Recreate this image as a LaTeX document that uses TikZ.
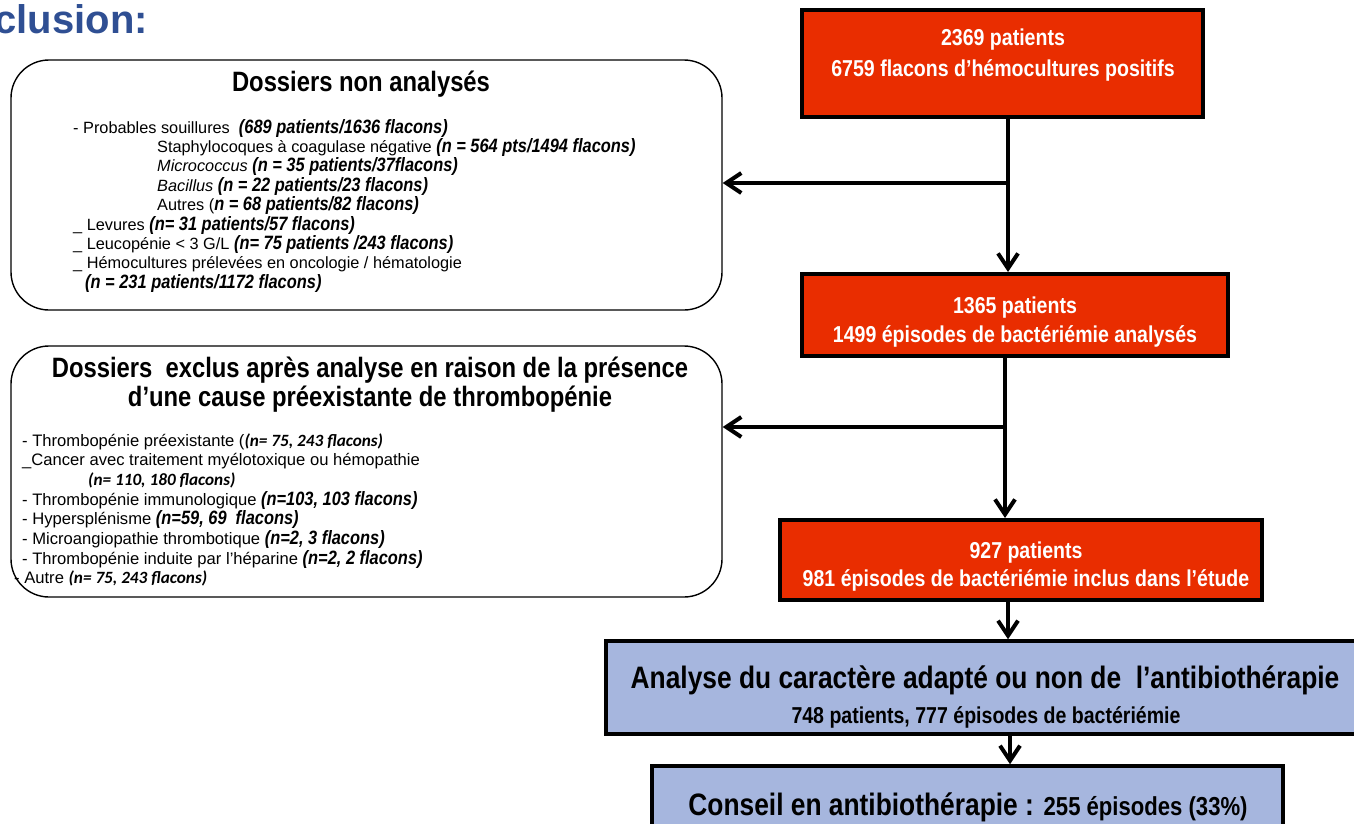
\documentclass[tikz,border=0pt]{standalone}
\usepackage{fontspec}
\setmainfont{Liberation Sans}
\newfontfamily\narrowf{Liberation Sans}[FakeStretch=0.85]
\newfontfamily\carl{Carlito}
\usetikzlibrary{arrows.meta}
\definecolor{redfill}{RGB}{233,45,0}
\definecolor{bluefill}{RGB}{166,182,222}
\definecolor{titleblue}{RGB}{47,79,147}
\newcommand{\bic}[1]{{\narrowf\bfseries\itshape\fontsize{19.3}{19}\selectfont #1}}
\newcommand{\cbic}[1]{{\carl\bfseries\itshape\fontsize{17.2}{19}\selectfont #1}}
\begin{document}
\begin{tikzpicture}[x=1pt,y=-1pt,
  redbox/.style={draw=black, line width=4pt, fill=redfill, inner sep=0pt},
  bluebox/.style={draw=black, line width=3.5pt, fill=bluefill, inner sep=0pt},
  roundbox/.style={draw=black, line width=1.4pt, rounded corners=38pt, inner sep=0pt},
  redtxt/.style={text=white, inner sep=0pt, font=\narrowf\bfseries\fontsize{23}{26}\selectfont},
  bluetitle/.style={text=black, inner sep=0pt, font=\narrowf\bfseries\fontsize{31}{34}\selectfont},
  bluesub/.style={text=black, inner sep=0pt, font=\narrowf\bfseries\fontsize{23}{26}\selectfont},
  boxtitle/.style={text=black, inner sep=0pt, font=\narrowf\bfseries\fontsize{28}{30}\selectfont},
  item/.style={anchor=base west, inner sep=0pt, font=\fontsize{16.3}{19}\selectfont},
  itemb/.style={anchor=base west, inner sep=0pt, font=\fontsize{16.6}{19}\selectfont},
  conn/.style={line width=4pt, -{Straight Barb[length=15pt,width=20pt]}}
]
\useasboundingbox (0,0) rectangle (1354,823);
\clip (0,0) rectangle (1354,823);

% title fragment
\node[anchor=base east, inner sep=0pt, text=titleblue, font=\bfseries\fontsize{40}{44}\selectfont] (ttl) at (148,33) {clusion:};

% rounded boxes
\node[roundbox, minimum width=711pt, minimum height=250pt] (nb1) at (366.5,185) {};
\node[roundbox, minimum width=711pt, minimum height=251pt] (nb2) at (366.5,471.5) {};

% box 1 content
\node[boxtitle] (h1) at (361,84) {Dossiers non analysés};
\node[item] (l1) at (73,133) {- Probables souillures \ \bic{(689 patients/1636 flacons)}};
\node[item] (l2) at (157,152.4) {Staphylocoques à coagulase négative \bic{(n = 564 pts/1494 flacons)}};
\node[item] (l3) at (157,171.8) {\textit{Micrococcus} \bic{(n = 35 patients/37flacons)}};
\node[item] (l4) at (157,191.2) {\textit{Bacillus} \bic{(n = 22 patients/23 flacons)}};
\node[item] (l5) at (157,210.6) {Autres (\bic{n = 68 patients/82 flacons)}};
\node[item] (l6) at (73,230) {\_ Levures \bic{(n= 31 patients/57 flacons)}};
\node[item] (l7) at (73,249.4) {\_ Leucopénie < 3 G/L \bic{(n= 75 patients /243 flacons)}};
\node[item] (l8) at (73,268.8) {\_ Hémocultures prélevées en oncologie / hématologie};
\node[item] (l9) at (85,288.2) {\bic{(n = 231 patients/1172 flacons)}};

% box 2 content
\node[boxtitle] (h2a) at (370,370) {Dossiers \ exclus après analyse en raison de la présence};
\node[boxtitle] (h2b) at (370,399) {d’une cause préexistante de thrombopénie};
\node[itemb] (m1) at (22,446) {- Thrombopénie préexistante (\cbic{(n= 75, 243 flacons)}};
\node[itemb] (m2) at (22,465.7) {\_Cancer avec traitement myélotoxique ou hémopathie};
\node[itemb] (m3) at (88,485.4) {\cbic{(n= 110, 180 flacons)}};
\node[itemb] (m4) at (22,505.1) {- Thrombopénie immunologique \bic{(n=103, 103 flacons)}};
\node[itemb] (m5) at (22,524.8) {- Hypersplénisme \bic{(n=59, 69 \ flacons)}};
\node[itemb] (m6) at (22,544.5) {- Microangiopathie thrombotique \bic{(n=2, 3 flacons)}};
\node[itemb] (m7) at (22,564.2) {- Thrombopénie induite par l’héparine \bic{(n=2, 2 flacons)}};
\node[itemb] (m8) at (14,583.9) {- Autre \cbic{(n= 75, 243 flacons)}};

% red boxes
\node[redbox, minimum width=401pt, minimum height=107pt] (r1) at (1002.5,63.5) {};
\node[redtxt] (r1a) at (1003,40) {2369 patients};
\node[redtxt] (r1b) at (1003,70) {6759 flacons d’hémocultures positifs};

\node[redbox, minimum width=426pt, minimum height=82pt] (r2) at (1015,315) {};
\node[redtxt] (r2a) at (1015,308) {1365 patients};
\node[redtxt] (r2b) at (1015,336) {1499 épisodes de bactériémie analysés};

\node[redbox, minimum width=482pt, minimum height=80pt] (r3) at (1021,560) {};
\node[redtxt] (r3a) at (1026,553) {927 patients};
\node[redtxt] (r3b) at (1026,580) {981 épisodes de bactériémie inclus dans l’étude};

% blue boxes
\node[bluebox, minimum width=758pt, minimum height=93pt] (b1) at (985,687.5) {};
\node[bluetitle] (b1a) at (985,680) {Analyse du caractère adapté ou non de \ l’antibiothérapie};
\node[bluesub] (b1b) at (986,717) {748 patients, 777 épisodes de bactériémie};

\node[bluebox, minimum width=631pt, minimum height=64pt] (b2) at (967.5,798) {};
\node[inner sep=0pt, anchor=base] (b2a) at (968,815) {\narrowf\bfseries\fontsize{31}{34}\selectfont Conseil en antibiothérapie : {\fontsize{26}{30}\selectfont 255 épisodes (33\%)}};

% connectors
\coordinate (j1) at (1008,183);
\coordinate (j2) at (1005,427);
\coordinate (j3) at (1008,620);
\coordinate (j4) at (1010,750);
\draw[conn] (r1.south -| j1) -- (r2.north -| j1);
\draw[conn] (j1) -- (nb1.east |- j1);
\draw[conn] (r2.south -| j2) -- (r3.north -| j2);
\draw[conn] (j2) -- (nb2.east |- j2);
\draw[conn] (r3.south -| j3) -- (b1.north -| j3);
\draw[conn] (b1.south -| j4) -- (b2.north -| j4);
\end{tikzpicture}
\end{document}
